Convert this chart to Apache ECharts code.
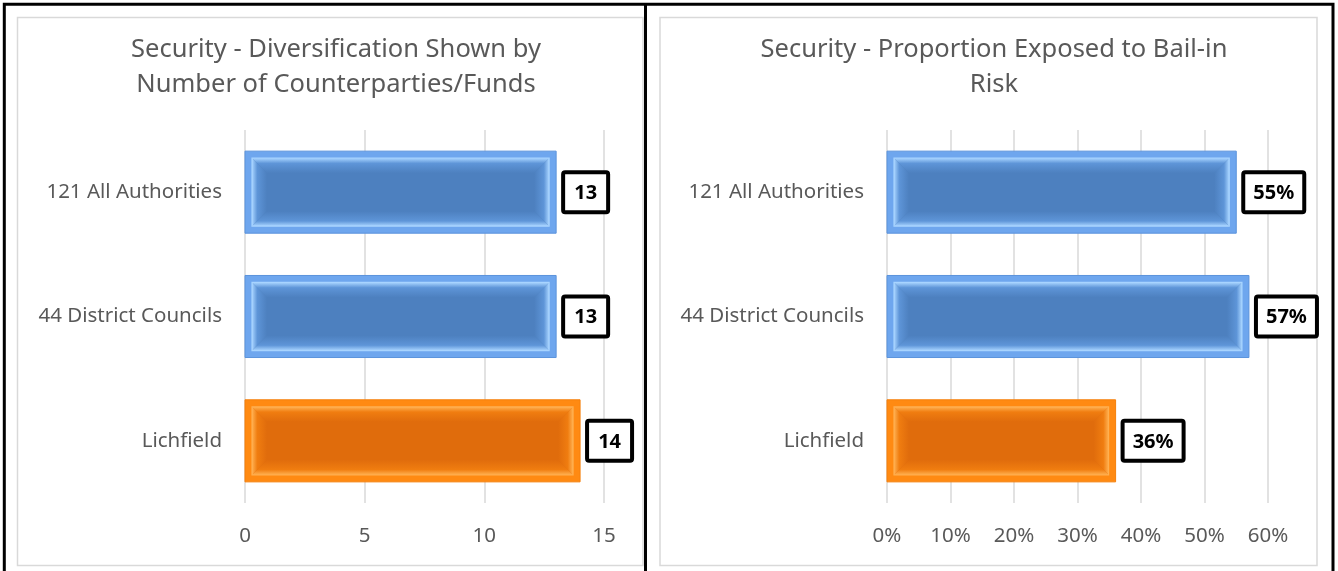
<!DOCTYPE html>
<html>
<head>
<meta charset="utf-8">
<script src="https://cdn.jsdelivr.net/npm/echarts@6/dist/echarts.min.js"></script>
<style>
  html, body { margin: 0; padding: 0; background: #fff; }
  #main { width: 1338px; height: 571px; }
</style>
</head>
<body>
<div id="main"></div>
<script>
// data
const categories = ["121 All Authorities", "44 District Councils", "Lichfield"];
const counterparties = [13, 13, 14];
const bailInShare = [0.55, 0.57, 0.36];
const countTicks = [0, 5, 10, 15];
const pctTicks = [0, 0.1, 0.2, 0.3, 0.4, 0.5, 0.6];

const FONT = "'Noto Sans', 'Open Sans', sans-serif";
const GREY = "#595959";

// blue for the benchmarks, orange for Lichfield
const palette = {
  blue: { outer: "#6ea6ee", edge: "#5b93dc", light: "#a8d4ff", mid: "#5e95d8", dark: "#4d80bf" },
  orange: { outer: "#ff8a12", edge: "#f57f0a", light: "#ffb050", mid: "#f07d10", dark: "#e06c0c" }
};

// bevelled bar, like the Excel "bevel" effect
function bevelBar(fmt) {
  return function (params, api) {
    const v = api.value(0);
    const idx = api.value(1);
    const p0 = api.coord([0, idx]);
    const p1 = api.coord([v, idx]);
    const h = api.size([0, 1])[1] * 0.66;
    const x = p0[0], y = p0[1] - h / 2, w = p1[0] - p0[0];
    const c = categories[idx] === "Lichfield" ? palette.orange : palette.blue;
    const o = 7;          // outer band
    const b = 15;         // bevel depth
    const ix = x + o, iy = y + o, iw = w - 2 * o, ih = h - 2 * o;
    const grad = (x1, y1, x2, y2) => new echarts.graphic.LinearGradient(x1, y1, x2, y2, [
      { offset: 0, color: c.light }, { offset: 0.35, color: c.mid }, { offset: 1, color: c.dark }
    ]);
    const txt = fmt(v);
    const boxW = txt.length > 2 ? 61 : 45;
    return {
      type: "group",
      children: [
        { type: "rect", shape: { x: x, y: y, width: w, height: h },
          style: { fill: c.outer, stroke: c.edge, lineWidth: 1 } },
        { type: "rect", shape: { x: ix, y: iy, width: iw, height: ih },
          style: { fill: c.dark } },
        { type: "polygon", shape: { points: [[ix, iy], [ix + iw, iy], [ix + iw - b, iy + b], [ix + b, iy + b]] },
          style: { fill: grad(0, 0, 0, 1) } },
        { type: "polygon", shape: { points: [[ix, iy + ih], [ix + iw, iy + ih], [ix + iw - b, iy + ih - b], [ix + b, iy + ih - b]] },
          style: { fill: grad(0, 1, 0, 0) } },
        { type: "polygon", shape: { points: [[ix, iy], [ix + b, iy + b], [ix + b, iy + ih - b], [ix, iy + ih]] },
          style: { fill: grad(0, 0, 1, 0) } },
        { type: "polygon", shape: { points: [[ix + iw, iy], [ix + iw - b, iy + b], [ix + iw - b, iy + ih - b], [ix + iw, iy + ih]] },
          style: { fill: grad(1, 0, 0, 0) } },
        { type: "rect", shape: { x: ix, y: iy, width: iw, height: ih },
          style: { fill: "none", stroke: c.light, lineWidth: 1.2 } },
        { type: "rect", shape: { x: p1[0] + 7, y: p0[1] - 20, width: boxW, height: 40, r: 2 },
          style: { fill: "#fff", stroke: "#000", lineWidth: 4 } },
        { type: "text", x: p1[0] + 7 + boxW / 2, y: p0[1] + 1,
          style: { text: txt, fill: "#000", font: "bold 20px " + FONT, align: "center", verticalAlign: "middle" } }
      ]
    };
  };
}

const toRows = (vals) => vals.map((v, i) => [v, i]);

const chart = echarts.init(document.getElementById("main"));
chart.setOption({
  backgroundColor: "#fff",
  animation: false,
  textStyle: { fontFamily: FONT },
  title: [
    {
      text: "Security - Diversification Shown by\nNumber of Counterparties/Funds",
      left: 331, top: 27, textAlign: "center",
      textStyle: { fontSize: 25.5, fontWeight: "normal", color: GREY, lineHeight: 35, fontFamily: FONT }
    },
    {
      text: "Security - Proportion Exposed to Bail-in\nRisk",
      left: 989, top: 27, textAlign: "center",
      textStyle: { fontSize: 25.5, fontWeight: "normal", color: GREY, lineHeight: 35, fontFamily: FONT }
    }
  ],
  grid: [
    { left: 245, right: 734, top: 130, bottom: 68 },
    { left: 887, right: 70, top: 130, bottom: 68 }
  ],
  xAxis: [
    {
      gridIndex: 0, type: "value",
      min: countTicks[0], max: countTicks[countTicks.length - 1], interval: 5,
      axisLine: { show: false }, axisTick: { show: false },
      splitLine: { lineStyle: { color: "#d9d9d9", width: 1.5 } },
      axisLabel: { color: GREY, fontSize: 20.5, margin: 23 }
    },
    {
      gridIndex: 1, type: "value",
      min: pctTicks[0], max: pctTicks[pctTicks.length - 1], interval: 0.1,
      axisLine: { show: false }, axisTick: { show: false },
      splitLine: { lineStyle: { color: "#d9d9d9", width: 1.5 } },
      axisLabel: { color: GREY, fontSize: 20.5, margin: 23, formatter: (v) => Math.round(v * 100) + "%" }
    }
  ],
  yAxis: [
    {
      gridIndex: 0, type: "category", data: categories, inverse: true,
      axisLine: { show: false }, axisTick: { show: false },
      axisLabel: { color: GREY, fontSize: 20.5, margin: 23 }
    },
    {
      gridIndex: 1, type: "category", data: categories, inverse: true,
      axisLine: { show: false }, axisTick: { show: false },
      axisLabel: { color: GREY, fontSize: 20.5, margin: 23 }
    }
  ],
  series: [
    {
      type: "custom", xAxisIndex: 0, yAxisIndex: 0,
      renderItem: bevelBar((v) => String(v)),
      encode: { x: 0, y: 1 },
      data: toRows(counterparties)
    },
    {
      type: "custom", xAxisIndex: 1, yAxisIndex: 1,
      renderItem: bevelBar((v) => Math.round(v * 100) + "%"),
      encode: { x: 0, y: 1 },
      data: toRows(bailInShare)
    }
  ],
  graphic: [
    { type: "rect", shape: { x: 17.5, y: 17.5, width: 625.5, height: 548 }, style: { fill: "none", stroke: "#d9d9d9", lineWidth: 1.5 } },
    { type: "rect", shape: { x: 660, y: 17.5, width: 657, height: 548 }, style: { fill: "none", stroke: "#d9d9d9", lineWidth: 1.5 } },
    { type: "polyline", shape: { points: [[4.3, 580], [4.3, 4.3], [1333, 4.3], [1333, 580]] }, style: { fill: "none", stroke: "#000", lineWidth: 3 } },
    { type: "line", shape: { x1: 645.5, y1: 4.3, x2: 645.5, y2: 580 }, style: { stroke: "#000", lineWidth: 3 } }
  ]
});
</script>
</body>
</html>
